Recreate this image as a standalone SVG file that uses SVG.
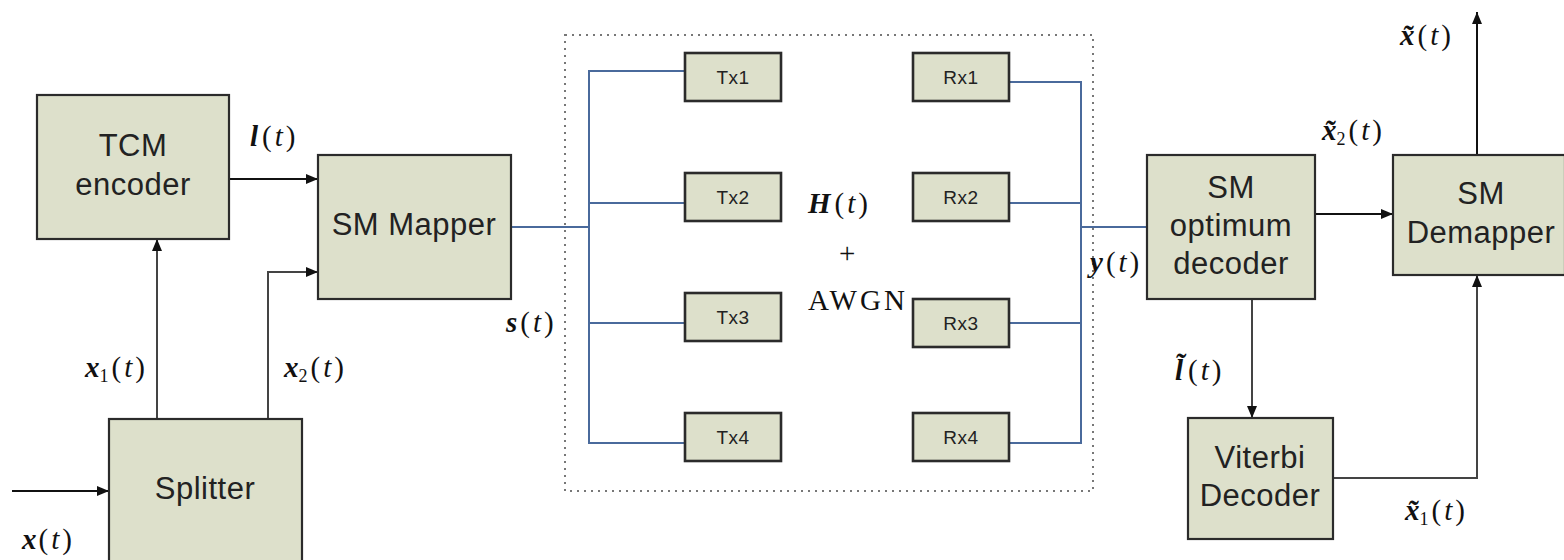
<svg xmlns="http://www.w3.org/2000/svg" width="1564" height="560" viewBox="0 0 1564 560">
  <defs>
    <marker id="arrow" viewBox="0 0 12 10" refX="12" refY="5" markerWidth="12" markerHeight="10" markerUnits="userSpaceOnUse" orient="auto">
      <path d="M0,0 L12,5 L0,10 Z" fill="#111"/>
    </marker>
    <style>
      .blk { fill: #dde0cb; stroke: #2b2b2b; stroke-width: 2.2; }
      .ant { fill: #dde0cb; stroke: #2b2b2b; stroke-width: 2.6; }
      .lbl { font-family: "Liberation Sans", Arial, sans-serif; font-size: 31px; letter-spacing: 0.5px; fill: #222; text-anchor: middle; }
      .small { font-family: "Liberation Sans", Arial, sans-serif; font-size: 19px; letter-spacing: 0.5px; fill: #222; text-anchor: middle; }
      .wire { fill: none; stroke: #111; stroke-width: 2; }
      .gray { fill: none; stroke: #444; stroke-width: 2; }
      .bus { fill: none; stroke: #4a6a9c; stroke-width: 2; }
      .math { font-family: "Liberation Serif", "Times New Roman", serif; font-size: 29px; fill: #111; }
      .v { font-weight: bold; font-style: italic; }
      .t { font-style: italic; }
      .sub { font-size: 18px; }
      .awgn { letter-spacing: 3px; }
    </style>
  </defs>

  <!-- channel region -->
  <rect x="565" y="35" width="528" height="456" fill="none" stroke="#777" stroke-width="2" stroke-dasharray="2 5"/>

  <!-- connectors -->
  <g id="connectors">
    <line class="wire" x1="12" y1="491" x2="109" y2="491" marker-end="url(#arrow)"/>
    <line class="gray" x1="157" y1="419" x2="157" y2="239" marker-end="url(#arrow)"/>
    <polyline class="gray" points="268,419 268,272 318,272" marker-end="url(#arrow)"/>
    <line class="wire" x1="229" y1="179" x2="318" y2="179" marker-end="url(#arrow)"/>
    <!-- transmit bus -->
    <line class="bus" x1="511" y1="227" x2="589" y2="227"/>
    <polyline class="bus" points="685,71 589,71 589,443 685,443"/>
    <line class="bus" x1="589" y1="203" x2="685" y2="203"/>
    <line class="bus" x1="589" y1="323" x2="685" y2="323"/>
    <!-- receive bus -->
    <polyline class="bus" points="1009,82 1081,82 1081,443 1009,443"/>
    <line class="bus" x1="1009" y1="203" x2="1081" y2="203"/>
    <line class="bus" x1="1009" y1="323" x2="1081" y2="323"/>
    <line class="bus" x1="1081" y1="227" x2="1165" y2="227"/>
    <!-- receiver chain -->
    <line class="wire" x1="1315" y1="214" x2="1393" y2="214" marker-end="url(#arrow)"/>
    <line class="gray" x1="1252" y1="299" x2="1252" y2="418" marker-end="url(#arrow)"/>
    <polyline class="gray" points="1333,478 1477,478 1477,275" marker-end="url(#arrow)"/>
    <line class="wire" x1="1477" y1="154" x2="1477" y2="12" marker-end="url(#arrow)"/>
  </g>

  <g id="tcm-encoder">
    <rect class="blk" x="37" y="95" width="192" height="144"/>
    <text class="lbl" x="133" y="156">TCM</text>
    <text class="lbl" x="133" y="195">encoder</text>
  </g>

  <g id="sm-mapper">
    <rect class="blk" x="318" y="155" width="193" height="144"/>
    <text class="lbl" x="414" y="235">SM Mapper</text>
  </g>

  <g id="splitter">
    <rect class="blk" x="109" y="419" width="193" height="150"/>
    <text class="lbl" x="205" y="499">Splitter</text>
  </g>

  <g id="tx1"><rect class="ant" x="685" y="53" width="96" height="48"/><text class="small" x="733" y="84">Tx1</text></g>
  <g id="tx2"><rect class="ant" x="685" y="173" width="96" height="48"/><text class="small" x="733" y="204">Tx2</text></g>
  <g id="tx3"><rect class="ant" x="685" y="293" width="96" height="48"/><text class="small" x="733" y="324">Tx3</text></g>
  <g id="tx4"><rect class="ant" x="685" y="413" width="96" height="48"/><text class="small" x="733" y="444">Tx4</text></g>

  <g id="rx1"><rect class="ant" x="913" y="53" width="96" height="48"/><text class="small" x="961" y="84">Rx1</text></g>
  <g id="rx2"><rect class="ant" x="913" y="173" width="96" height="48"/><text class="small" x="961" y="204">Rx2</text></g>
  <g id="rx3"><rect class="ant" x="913" y="299" width="96" height="48"/><text class="small" x="961" y="330">Rx3</text></g>
  <g id="rx4"><rect class="ant" x="913" y="413" width="96" height="48"/><text class="small" x="961" y="444">Rx4</text></g>

  <g id="sm-decoder">
    <rect class="blk" x="1147" y="155" width="168" height="144"/>
    <text class="lbl" x="1231" y="198">SM</text>
    <text class="lbl" x="1231" y="236">optimum</text>
    <text class="lbl" x="1231" y="274">decoder</text>
  </g>

  <g id="sm-demapper">
    <rect class="blk" x="1393" y="155" width="172" height="120"/>
    <text class="lbl" x="1481" y="204">SM</text>
    <text class="lbl" x="1481" y="243">Demapper</text>
  </g>

  <g id="viterbi">
    <rect class="blk" x="1188" y="418" width="145" height="121"/>
    <text class="lbl" x="1260" y="468">Viterbi</text>
    <text class="lbl" x="1260" y="506">Decoder</text>
  </g>

  <!-- signal labels -->
  <g id="labels">
    <text class="math" x="250" y="146"><tspan class="v">l</tspan><tspan dx="4">(</tspan><tspan class="t" dx="3">t</tspan><tspan dx="3">)</tspan></text>
    <text class="math" x="85" y="377"><tspan class="v">x</tspan><tspan class="sub" dy="5">1</tspan><tspan dy="-5" dx="3">(</tspan><tspan class="t" dx="3">t</tspan><tspan dx="3">)</tspan></text>
    <text class="math" x="284" y="377"><tspan class="v">x</tspan><tspan class="sub" dy="5">2</tspan><tspan dy="-5" dx="3">(</tspan><tspan class="t" dx="3">t</tspan><tspan dx="3">)</tspan></text>
    <text class="math" x="22" y="549"><tspan class="v">x</tspan><tspan dx="2">(</tspan><tspan class="t" dx="3">t</tspan><tspan dx="3">)</tspan></text>
    <text class="math" x="506" y="332"><tspan class="v">s</tspan><tspan dx="3">(</tspan><tspan class="t" dx="3">t</tspan><tspan dx="3">)</tspan></text>
    <text class="math" x="808" y="213"><tspan class="v">H</tspan><tspan dx="4">(</tspan><tspan class="t" dx="3">t</tspan><tspan dx="3">)</tspan></text>
    <text class="math" x="839" y="263">+</text>
    <text class="math awgn" x="808" y="310">AWGN</text>
    <text class="math" x="1090" y="272"><tspan class="v">y</tspan><tspan dx="3">(</tspan><tspan class="t" dx="3">t</tspan><tspan dx="3">)</tspan></text>
    <text class="math" x="1322" y="140"><tspan class="v">x̃</tspan><tspan class="sub" dy="5">2</tspan><tspan dy="-5" dx="3">(</tspan><tspan class="t" dx="3">t</tspan><tspan dx="3">)</tspan></text>
    <text class="math" x="1400" y="45"><tspan class="v">x̃</tspan><tspan dx="3">(</tspan><tspan class="t" dx="3">t</tspan><tspan dx="3">)</tspan></text>
    <text class="math" x="1175" y="380"><tspan class="v">l̃</tspan><tspan dx="5">(</tspan><tspan class="t" dx="3">t</tspan><tspan dx="3">)</tspan></text>
    <text class="math" x="1405" y="520"><tspan class="v">x̃</tspan><tspan class="sub" dy="5">1</tspan><tspan dy="-5" dx="3">(</tspan><tspan class="t" dx="3">t</tspan><tspan dx="3">)</tspan></text>
  </g>
</svg>
